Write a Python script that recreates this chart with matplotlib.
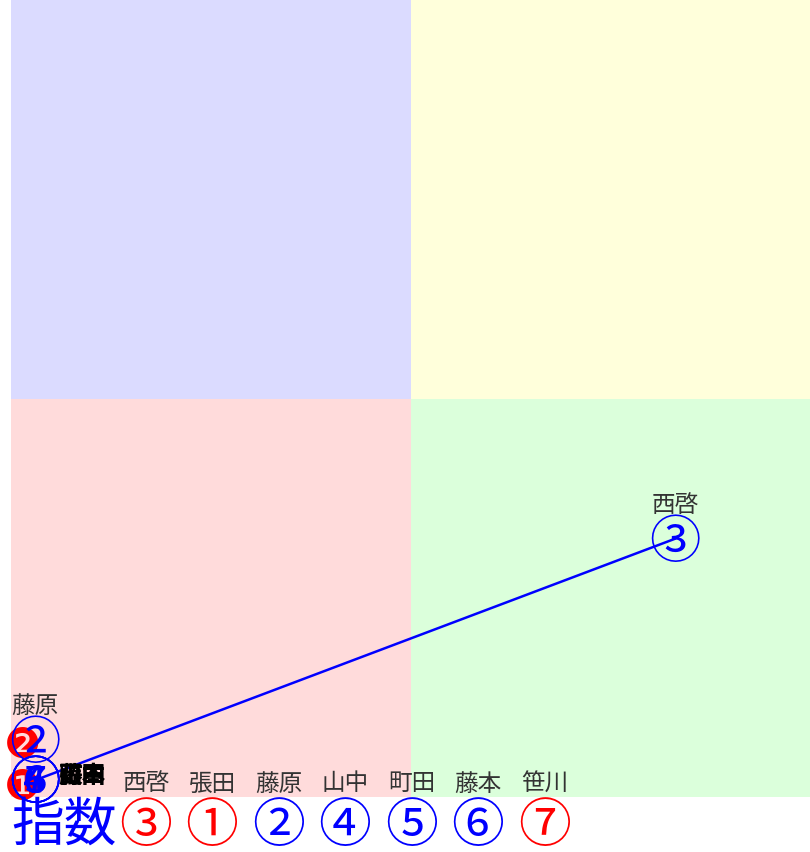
import matplotlib
matplotlib.use("Agg")
import matplotlib.pyplot as plt
from matplotlib.patches import Rectangle

plt.rcParams['font.family'] = ['Noto Sans CJK JP', 'DejaVu Sans']

# legend row
names = ['西啓', '張田', '藤原', '山中', '町田', '藤本', '笹川']
index_marks = ['③', '①', '②', '④', '⑤', '⑥', '⑦']
index_colors = ['red', 'red', 'blue', 'blue', 'blue', 'blue', 'red']

# plotted points (blue circled marks)
pt_names = ['西啓', '藤原', '山中', '町田', '藤本', '張田']
pt_marks = ['③', '②', '④', '⑤', '⑥', '⑦']
pt_x = [83.1, 3.0, 3.0, 3.0, 3.0, 3.0]
pt_y = [32.4, 7.2, 2.1, 2.1, 2.1, 2.1]
label_above = [True, True, False, False, False, False]

# red filled marks
red_marks = ['❷', '❶']
red_x = [1.4, 1.4]
red_y = [6.7, 1.5]

# line
line_x = [3.0, 83.1]
line_y = [2.1, 32.4]

W, H = 810, 852
fig = plt.figure(figsize=(W / 100, H / 100), dpi=100)
ax = fig.add_axes([11 / W, 55 / H, 799 / W, 797 / H])
ax.set_xlim(0, 100)
ax.set_ylim(0, 100)
ax.axis('off')

quads = [((0, 50), '#DBDBFF'), ((50, 50), '#FFFFDB'), ((0, 0), '#FFDBDB'), ((50, 0), '#DBFFDB')]
for (x0, y0), c in quads:
    ax.add_patch(Rectangle((x0, y0), 50, 50, facecolor=c, edgecolor='none', zorder=0))

for m, x, y in zip(red_marks, red_x, red_y):
    ax.annotate(m, (x, y), xytext=(0, -2), textcoords='offset points',
                color='red', fontsize=30, ha='center', va='center',
                family=['DejaVu Sans'], zorder=2)

ax.plot(line_x, line_y, color='blue', lw=1.8, zorder=3)

for n, m, x, y, above in zip(pt_names, pt_marks, pt_x, pt_y, label_above):
    ax.annotate(m, (x, y), xytext=(0, -3), textcoords='offset points',
                color='blue', fontsize=37, ha='center', va='center', zorder=4)
    if above:
        ax.annotate(n, (x, y), xytext=(0, 24), textcoords='offset points',
                    ha='center', va='center', fontsize=17, color='#333333', zorder=5)
    else:
        ax.annotate(n, (x, y), xytext=(17, 3), textcoords='offset points',
                    ha='left', va='center', fontsize=17, color='black',
                    fontweight='bold', zorder=5)

# bottom legend row
fig.text(64 / W, 1 - 825 / H, '指数', color='blue', fontsize=38, ha='center', va='center')
xs = [146, 212, 279, 345, 412, 478, 545]
for n, m, c, px in zip(names, index_marks, index_colors, xs):
    fig.text(px / W, 1 - 784 / H, n, color='#333333', fontsize=17, ha='center', va='center')
    fig.text(px / W, 1 - 826 / H, m, color=c, fontsize=38, ha='center', va='center')

fig.savefig('out.png', dpi=100)
